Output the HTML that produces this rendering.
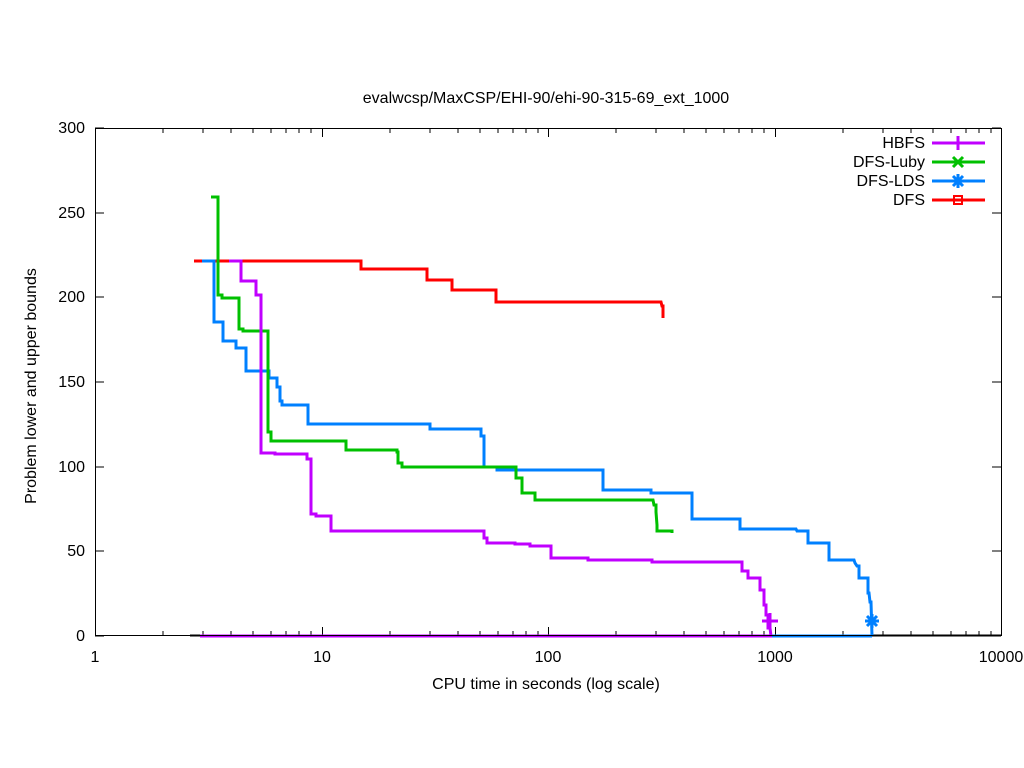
<!DOCTYPE html>
<html><head><style>body{margin:0;background:#fff}svg{display:block}text{font-family:"Liberation Sans",sans-serif;font-size:16px;fill:#000}</style></head>
<body>
<svg width="1024" height="768" xmlns="http://www.w3.org/2000/svg">
<text x="546" y="103" text-anchor="middle">evalwcsp/MaxCSP/EHI-90/ehi-90-315-69_ext_1000</text>
<g id="ticks" stroke="#000" stroke-width="1">
<path d="M95,636h9M1001,636h-9M95,551h9M1001,551h-9M95,467h9M1001,467h-9M95,382h9M1001,382h-9M95,297h9M1001,297h-9M95,213h9M1001,213h-9M95,128h9M1001,128h-9"/>
<path d="M95.5,636v-9M322.5,636v-9M548.5,636v-9M775.5,636v-9M95.5,128v9M322.5,128v9M548.5,128v9M775.5,128v9"/>
<path d="M163,636v-5M203,636v-5M231,636v-5M253,636v-5M271,636v-5M286,636v-5M299,636v-5M311,636v-5M390,636v-5M430,636v-5M458,636v-5M480,636v-5M498,636v-5M513,636v-5M526,636v-5M538,636v-5M616,636v-5M656,636v-5M684,636v-5M706,636v-5M724,636v-5M739,636v-5M752,636v-5M764,636v-5M843,636v-5M883,636v-5M911,636v-5M933,636v-5M951,636v-5M966,636v-5M979,636v-5M991,636v-5"/>
<path d="M163,128v5M203,128v5M231,128v5M253,128v5M271,128v5M286,128v5M299,128v5M311,128v5M390,128v5M430,128v5M458,128v5M480,128v5M498,128v5M513,128v5M526,128v5M538,128v5M616,128v5M656,128v5M684,128v5M706,128v5M724,128v5M739,128v5M752,128v5M764,128v5M843,128v5M883,128v5M911,128v5M933,128v5M951,128v5M966,128v5M979,128v5M991,128v5"/>
</g>
<g text-anchor="end">
<text x="85" y="641">0</text><text x="85" y="556">50</text><text x="85" y="472">100</text><text x="85" y="387">150</text><text x="85" y="302">200</text><text x="85" y="218">250</text><text x="85" y="133">300</text>
</g>
<g text-anchor="middle">
<text x="95" y="662">1</text><text x="322" y="662">10</text><text x="548" y="662">100</text><text x="775" y="662">1000</text><text x="1001" y="662">10000</text>
<text x="546" y="689">CPU time in seconds (log scale)</text>
</g>
<text transform="translate(36,386) rotate(-90)" text-anchor="middle">Problem lower and upper bounds</text>
<g fill="none" stroke-width="3">
<polyline stroke="#000" stroke-width="2" points="190,635.5 1001,635.5"/>
<polyline stroke="#c000ff" points="200,636 772,636"/>
<polyline stroke="#0080ff" points="772,636 872,636"/>
<polyline stroke="#ff0000" points="194,261 361,261 361,269 427,269 427,280 452,280 452,290 496,290 496,302 661,302 662,306 663,306 663,318"/>
<polyline stroke="#0080ff" points="202,261 214,261 214,322 223,322 223,341 236,341 236,348 246,348 246,371 269,371 269,378 277,378 277,387 280,387 280,401 282,401 282,405 308,405 308,424 430,424 430,429 481,429 481,436 484,436 484,467 497,467 497,470 603,470 603,490 651,490 651,493 692,493 692,519 740,519 740,529 796,529 797,531 808,531 808,543 829,543 829,560 854,560 855,563 857,566 859,566 859,578 868,578 868,593 869,593 870,602 871,602 872,636"/>
<polyline stroke="#00c000" points="211,197 218,197 218,295 222,295 222,298 239,298 239,329 243,329 243,331 268,331 268,432 271,432 271,441 346,441 346,450 397,450 397,452 398,452 398,463 402,463 402,467 516,467 516,478 522,478 522,493 535,493 535,500 653,500 654,505 656,505 656,512 657,525 657,531 672,531 672,533"/>
<polyline stroke="#c000ff" points="229,261 241,261 241,281 256,281 256,295 261,295 261,453 275,453 275,454 307,454 307,459 311,459 311,514 316,514 316,516 331,516 331,531 484,531 484,538 487,538 487,543 515,543 515,544 530,544 530,546 551,546 551,558 588,558 588,560 652,560 652,562 742,562 742,571 748,571 748,578 760,578 760,590 764,590 764,605 766,605 766,615 768,615 768,628 770,628 771,636"/>
<path stroke="#c000ff" d="M762,621h16M770,613v16"/>
<path stroke="#0080ff" d="M865,621h14M872,614v14M867,616l10,10M867,626l10,-10"/>
<path stroke="#c000ff" d="M932,143h53M958,136v14"/>
<path stroke="#00c000" d="M932,162h53M953,157l10,10M953,167l10,-10"/>
<path stroke="#0080ff" d="M932,181h53M958,174v14M951,181h14M953,176l10,10M953,186l10,-10"/>
<path stroke="#ff0000" d="M932,200h53"/>
<rect x="954" y="196" width="8" height="8" stroke="#ff0000" stroke-width="2"/>
</g>
<g text-anchor="end">
<text x="925" y="148">HBFS</text><text x="925" y="167">DFS-Luby</text><text x="925" y="186">DFS-LDS</text><text x="925" y="205">DFS</text>
</g>
<rect x="95.5" y="128.5" width="906" height="507" fill="none" stroke="#000" stroke-width="1"/>
</svg>
</body></html>
